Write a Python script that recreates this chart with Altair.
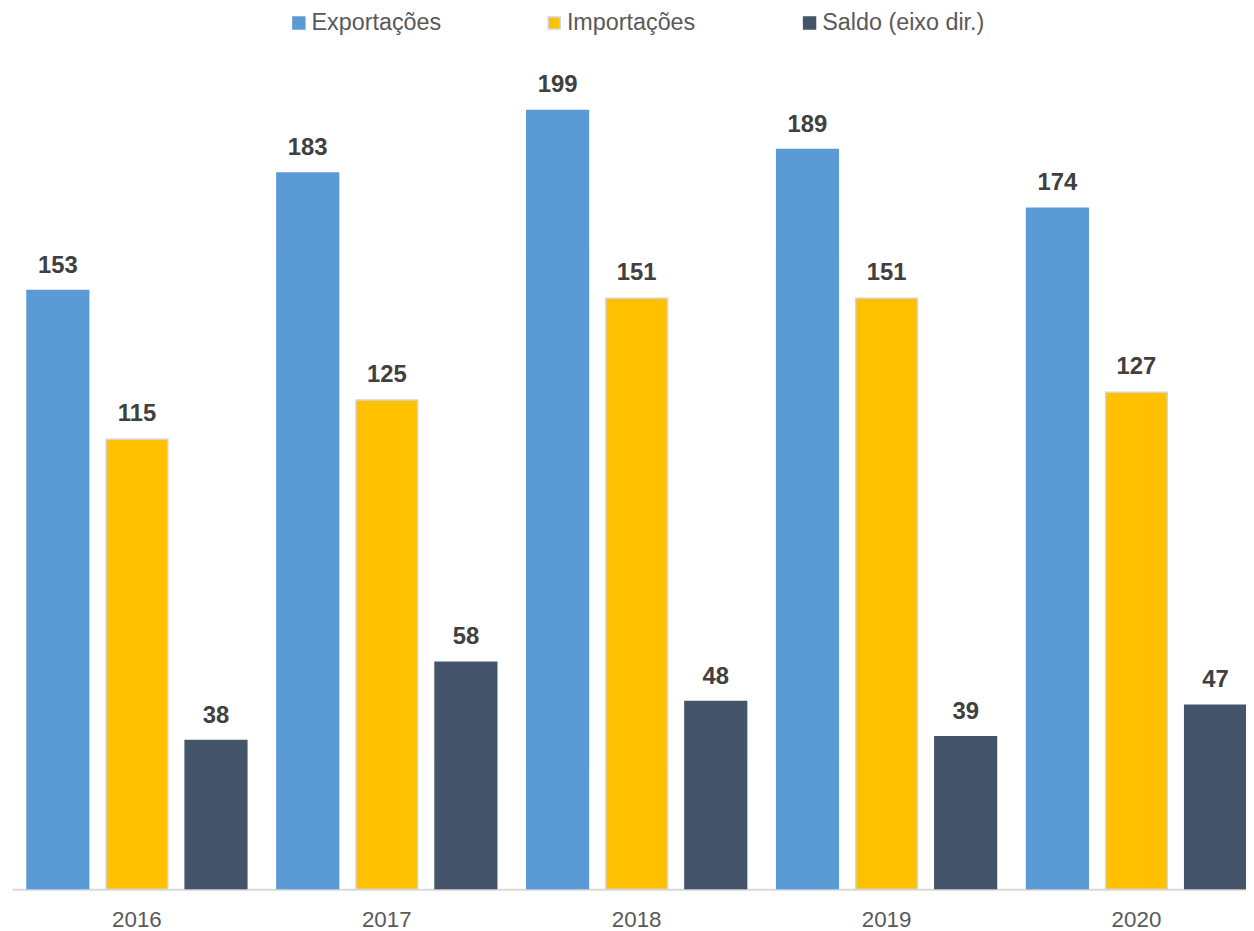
import altair as alt
import pandas as pd

years = ["2016", "2017", "2018", "2019", "2020"]
series = ["Exportações", "Importações", "Saldo (eixo dir.)"]
exportacoes = [153, 183, 199, 189, 174]
importacoes = [115, 125, 151, 151, 127]
saldo = [38, 58, 48, 39, 47]

fill_colors = ["#5B9BD5", "#FFC000", "#44546A"]
stroke_colors = ["#5B9BD5", "#D4D4D4", "#44546A"]

rows = []
for name, vals in zip(series, [exportacoes, importacoes, saldo]):
    for y, v in zip(years, vals):
        rows.append({"ano": y, "serie": name, "valor": v})
df = pd.DataFrame(rows)

FONT = "Liberation Sans, Arial, sans-serif"

x_enc = alt.X("ano:N", sort=years, title=None,
              scale=alt.Scale(rangeMin=0, rangeMax=1257.5, paddingInner=0, paddingOuter=0),
              axis=alt.Axis(labelAngle=0, ticks=False, labelPadding=19,
                            labelFontSize=22.5, labelColor="#595959", labelFont=FONT,
                            domainColor="#D9D9D9", domainWidth=2, grid=False))
xoff_enc = alt.XOffset("serie:N", sort=series,
                       scale=alt.Scale(paddingInner=0.22, paddingOuter=0.19))
y_enc = alt.Y("valor:Q", title=None, axis=None,
              scale=alt.Scale(domain=[0, 211.2], nice=False, zero=True))

base = alt.Chart(df).encode(x=x_enc, xOffset=xoff_enc, y=y_enc)

def legend():
    return alt.Legend(orient="none", legendX=277, legendY=-52,
                      direction="horizontal", columns=3,
                      gridAlign="all", columnPadding=69,
                      symbolType="square", symbolSize=144,
                      symbolStrokeWidth=1.5,
                      labelFontSize=23.5, labelColor="#595959",
                      labelFont=FONT, labelOffset=1, labelLimit=0,
                      title=None, padding=0)

bars = base.mark_bar(strokeWidth=1.5, clip=True).encode(
    color=alt.Color("serie:N", sort=series,
                    scale=alt.Scale(domain=series, range=fill_colors),
                    legend=legend()),
    stroke=alt.Stroke("serie:N", sort=series,
                      scale=alt.Scale(domain=series, range=stroke_colors),
                      legend=legend()),
)

labels = base.mark_text(dy=-18, baseline="alphabetic", align="center",
                        fontWeight="bold", fontSize=24, color="#404040",
                        font=FONT).encode(text=alt.Text("valor:Q"))

chart = alt.layer(bars, labels).properties(
    width=1242, height=832,
    autosize=alt.AutoSizeParams(type="none"),
    padding={"left": 4, "top": 52, "right": 0, "bottom": 38},
    background="white",
).configure_view(stroke=None, strokeWidth=0)

chart.save("out.html", embed_options={"renderer": "svg", "actions": False})
